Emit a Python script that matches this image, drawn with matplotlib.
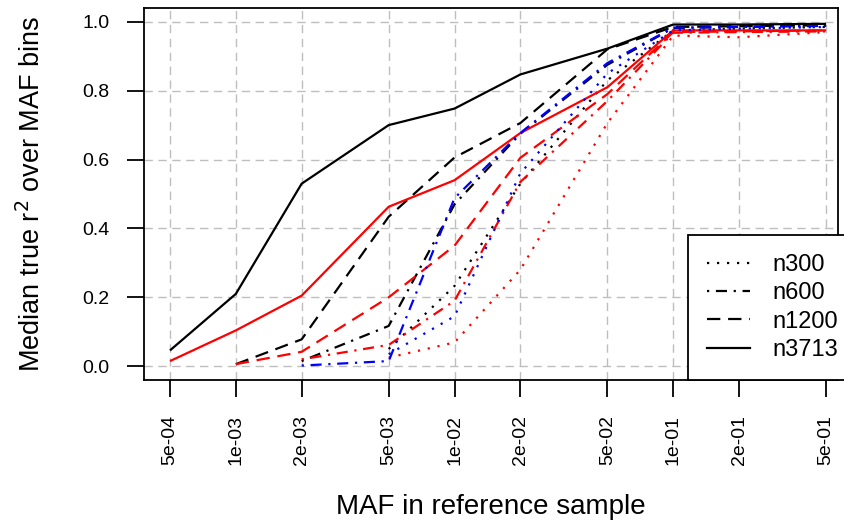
import matplotlib.pyplot as plt
import numpy as np

plt.rcParams['font.family'] = ['Liberation Sans', 'DejaVu Sans']

# Data
maf = [5e-4, 1e-3, 2e-3, 5e-3, 1e-2, 2e-2, 5e-2, 1e-1, 2e-1, 5e-1]
tick_labels = ['5e-04', '1e-03', '2e-03', '5e-03', '1e-02',
               '2e-02', '5e-02', '1e-01', '2e-01', '5e-01']
nan = np.nan

# black group
black_n3713 = [0.046, 0.21, 0.53, 0.70, 0.748, 0.847, 0.922, 0.992, 0.992, 0.994]
black_n1200 = [nan, 0.006, 0.078, 0.434, 0.606, 0.706, 0.920, 0.985, 0.987, 0.990]
black_n600 = [nan, nan, 0.015, 0.117, 0.47, 0.675, 0.875, 0.982, 0.985, 0.990]
black_n300 = [nan, nan, nan, 0.05, 0.233, 0.53, 0.83, 0.975, 0.980, 0.985]

# red group
red_n3713 = [0.015, 0.104, 0.205, 0.463, 0.54, 0.677, 0.81, 0.975, 0.975, 0.975]
red_n1200 = [nan, 0.006, 0.042, 0.20, 0.35, 0.605, 0.79, 0.970, 0.972, 0.975]
red_n600 = [nan, nan, 0.02, 0.062, 0.19, 0.535, 0.77, 0.968, 0.970, 0.972]
red_n300 = [nan, nan, nan, 0.025, 0.069, 0.28, 0.706, 0.960, 0.955, 0.970]

# blue group
blue_n600 = [nan, nan, 0.002, 0.015, 0.488, 0.677, 0.88, 0.983, 0.985, 0.988]
blue_n300 = [nan, nan, nan, 0.035, 0.145, 0.56, 0.85, 0.975, 0.980, 0.985]

sizes = ['n300', 'n600', 'n1200', 'n3713']
styles = {
    'n300': (0, (1, 3.5)),
    'n600': (0, (1, 3, 5, 3)),
    'n1200': (0, (6, 3.5)),
    'n3713': '-',
}

series = [
    ('black', 'n3713', black_n3713), ('black', 'n1200', black_n1200),
    ('black', 'n600', black_n600), ('black', 'n300', black_n300),
    ('red', 'n3713', red_n3713), ('red', 'n1200', red_n1200),
    ('red', 'n600', red_n600), ('red', 'n300', red_n300),
    ('blue', 'n600', blue_n600), ('blue', 'n300', blue_n300),
]

fig = plt.figure(figsize=(8.44, 5.22), dpi=100)
ax = fig.add_axes([0.1706, 0.272, 0.8224, 0.7127])

for col, n, vals in series:
    ax.plot(maf, vals, color=col, linestyle=styles[n], linewidth=1.6,
            dash_capstyle='butt', solid_capstyle='butt')

ax.set_xscale('log')
ax.set_xlim(10 ** -3.42, 10 ** -0.246)
ax.set_ylim(-0.04, 1.04)
ax.set_xticks(maf)
ax.set_xticklabels(tick_labels, rotation=90)
ax.xaxis.set_minor_locator(plt.NullLocator())
ax.set_yticks([0.0, 0.2, 0.4, 0.6, 0.8, 1.0])
ax.set_yticklabels(['0.0', '0.2', '0.4', '0.6', '0.8', '1.0'])
ax.tick_params(axis='both', length=12, width=1.3, pad=13, labelsize=14)

ax.grid(True, color='#bebebe', linestyle=(0, (6, 4)), linewidth=1)
ax.set_axisbelow(True)
for s in ax.spines.values():
    s.set_linewidth(1.3)

ax.set_xlabel('MAF in reference sample', fontsize=20)
ax.xaxis.set_label_coords(0.5, -0.306)
ax.set_ylabel('Median true r$^2$ over MAF bins', fontsize=19.5)
ax.yaxis.set_label_coords(-0.141, 0.5)

# legend sits in the bottom right corner and runs off the right edge
handles = [plt.Line2D([], [], color='black', linestyle=styles[n], linewidth=1.6)
           for n in sizes]
leg = ax.legend(handles, sizes, loc='lower left', bbox_to_anchor=(0.784, 0.0),
                fontsize=17, frameon=True, fancybox=False, edgecolor='black',
                framealpha=1, borderaxespad=0, handlelength=1.82,
                labelspacing=0.27, borderpad=0.8, handletextpad=0.93)
leg.get_frame().set_linewidth(1.3)
leg.set_clip_on(False)

plt.savefig('out.png', dpi=100)
